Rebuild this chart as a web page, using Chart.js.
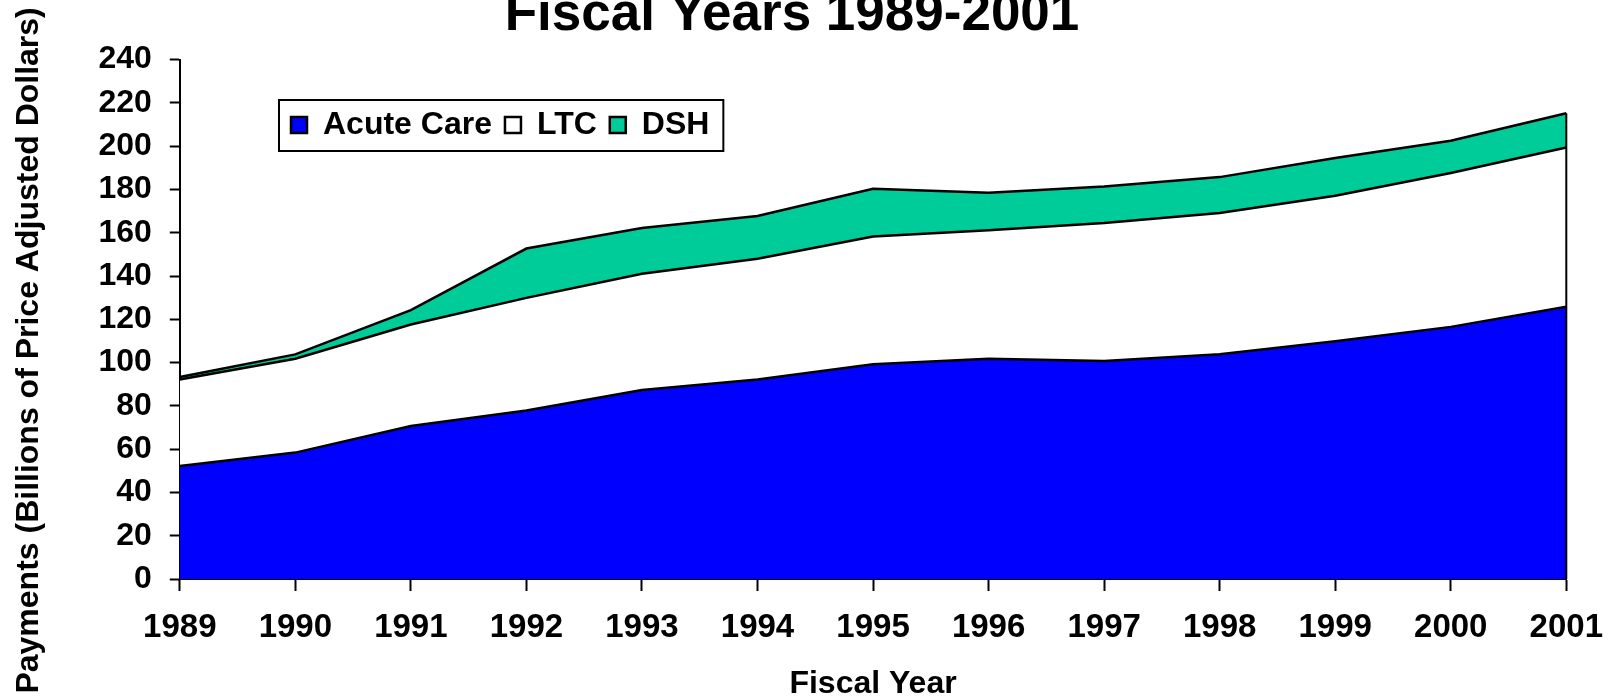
<!DOCTYPE html>
<html>
<head>
<meta charset="utf-8">
<script src="https://cdn.jsdelivr.net/npm/chart.js@4.4.1/dist/chart.umd.min.js"></script>
<style>
  html, body { margin: 0; padding: 0; background: #fff; }
</style>
</head>
<body>
<canvas id="medicaidChart" width="1610" height="700"></canvas>
<script>
// values (billions), stacked
const years = ['1989', '1990', '1991', '1992', '1993', '1994', '1995', '1996', '1997', '1998', '1999', '2000', '2001'];
const acuteCare = [52.2, 58.4, 70.7, 77.9, 87.3, 92.2, 99.2, 101.8, 100.7, 103.8, 109.9, 116.5, 125.8];
const ltc = [40.0, 43.4, 46.9, 52.0, 53.7, 55.8, 59.1, 59.3, 63.8, 65.3, 67.2, 71.1, 73.6];
const dsh = [1.1, 2.0, 6.6, 22.8, 21.2, 19.7, 22.0, 17.4, 16.9, 16.6, 17.4, 14.9, 15.8];
const yTicks = [0, 20, 40, 60, 80, 100, 120, 140, 160, 180, 200, 220, 240];

Chart.defaults.font.family = '"Liberation Sans", Arial, sans-serif';
Chart.defaults.font.weight = 'bold';
Chart.defaults.color = '#000';

// legend sits inside the plot area with a box round it, like the excel chart
const insideLegend = {
  id: 'insideLegend',
  afterInit(chart) {
    const lg = chart.legend;
    const fit = lg.fit;
    lg.fit = function () {
      fit.call(this);
      this._realHeight = this.height;
      this.height = 0;
    };
  },
  afterLayout(chart) {
    const lg = chart.legend;
    lg.left = 278;
    lg.top = 96;
    lg.right = lg.left + 600;
    lg.bottom = lg.top + (lg._realHeight || 70);
  },
  afterDraw(chart) {
    const lg = chart.legend;
    const hb = lg.legendHitBoxes;
    if (!hb || !hb.length) return;
    const ctx = chart.ctx;
    const last = hb[hb.length - 1];
    const mid = hb[0].top + hb[0].height / 2;
    ctx.save();
    ctx.strokeStyle = '#000';
    ctx.lineWidth = 2;
    ctx.strokeRect(hb[0].left - 12, mid - 25, last.left + last.width + 14 - (hb[0].left - 12), 51);
    ctx.restore();
  }
};

// closing edge of the area at the last year
const rightEdge = {
  id: 'rightEdge',
  afterDatasetsDraw(chart) {
    const i = years.length - 1;
    const x = chart.scales.x.getPixelForValue(i);
    const top = chart.scales.y.getPixelForValue(acuteCare[i] + ltc[i] + dsh[i]);
    const bottom = chart.scales.y.getPixelForValue(0);
    const ctx = chart.ctx;
    ctx.save();
    ctx.strokeStyle = '#000';
    ctx.lineWidth = 2;
    ctx.beginPath();
    ctx.moveTo(x, top);
    ctx.lineTo(x, bottom);
    ctx.stroke();
    ctx.restore();
  }
};

let ctx = document.querySelector('#medicaidChart');

let areaChart = new Chart(ctx, {
  type: 'line',
  data: {
    labels: years,
    datasets: [{
      label: 'Acute Care',
      data: acuteCare,
      backgroundColor: '#0000FF',
      borderColor: '#000',
      borderWidth: 2.5,
      fill: 'origin',
      pointRadius: 0,
      tension: 0
    }, {
      label: 'LTC',
      data: ltc,
      backgroundColor: '#FFFFFF',
      borderColor: '#000',
      borderWidth: 2.5,
      fill: '-1',
      pointRadius: 0,
      tension: 0
    }, {
      label: 'DSH',
      data: dsh,
      backgroundColor: '#00CC99',
      borderColor: '#000',
      borderWidth: 2.5,
      fill: '-1',
      pointRadius: 0,
      tension: 0
    }]
  },
  options: {
    responsive: false,
    maintainAspectRatio: false,
    animation: false,
    layout: { padding: { left: 0, right: 26, top: 0, bottom: 0 } },
    plugins: {
      title: {
        display: true,
        text: 'Fiscal Years 1989-2001',
        font: { size: 53, weight: 'bold' },
        color: '#000',
        padding: { top: -16.6, bottom: 12.6 }
      },
      legend: {
        display: true,
        position: 'top',
        align: 'start',
        labels: {
          font: { size: 32, weight: 'bold' },
          color: '#000',
          boxWidth: 16,
          boxHeight: 16,
          padding: 13
        }
      },
      tooltip: { enabled: false }
    },
    scales: {
      x: {
        offset: false,
        grid: {
          offset: false,
          drawOnChartArea: false,
          drawTicks: true,
          tickLength: 25,
          tickBorderDash: [11, 100],
          tickColor: '#000',
          tickWidth: 2
        },
        border: { color: '#000', width: 2 },
        ticks: {
          autoSkip: false,
          maxRotation: 0,
          padding: 7,
          font: { size: 33, weight: 'bold', lineHeight: 1 }
        },
        title: {
          display: true,
          text: 'Fiscal Year',
          font: { size: 32, weight: 'bold', lineHeight: 1 },
          padding: { top: 17, bottom: 0 }
        }
      },
      y: {
        stacked: true,
        min: 0,
        max: 240,
        afterBuildTicks(scale) {
          scale.ticks = yTicks.map(v => ({ value: v }));
        },
        grid: {
          drawOnChartArea: false,
          drawTicks: true,
          tickLength: 10,
          tickColor: '#000',
          tickWidth: 2
        },
        border: { color: '#000', width: 2 },
        ticks: {
          padding: 18,
          font: { size: 32, weight: 'bold' }
        },
        title: {
          display: true,
          text: 'Payments (Billions of Price Adjusted Dollars)       ',
          font: { size: 32, weight: 'bold' },
          padding: { top: 10, bottom: 32 }
        }
      }
    }
  },
  plugins: [insideLegend, rightEdge]
});
</script>
</body>
</html>
